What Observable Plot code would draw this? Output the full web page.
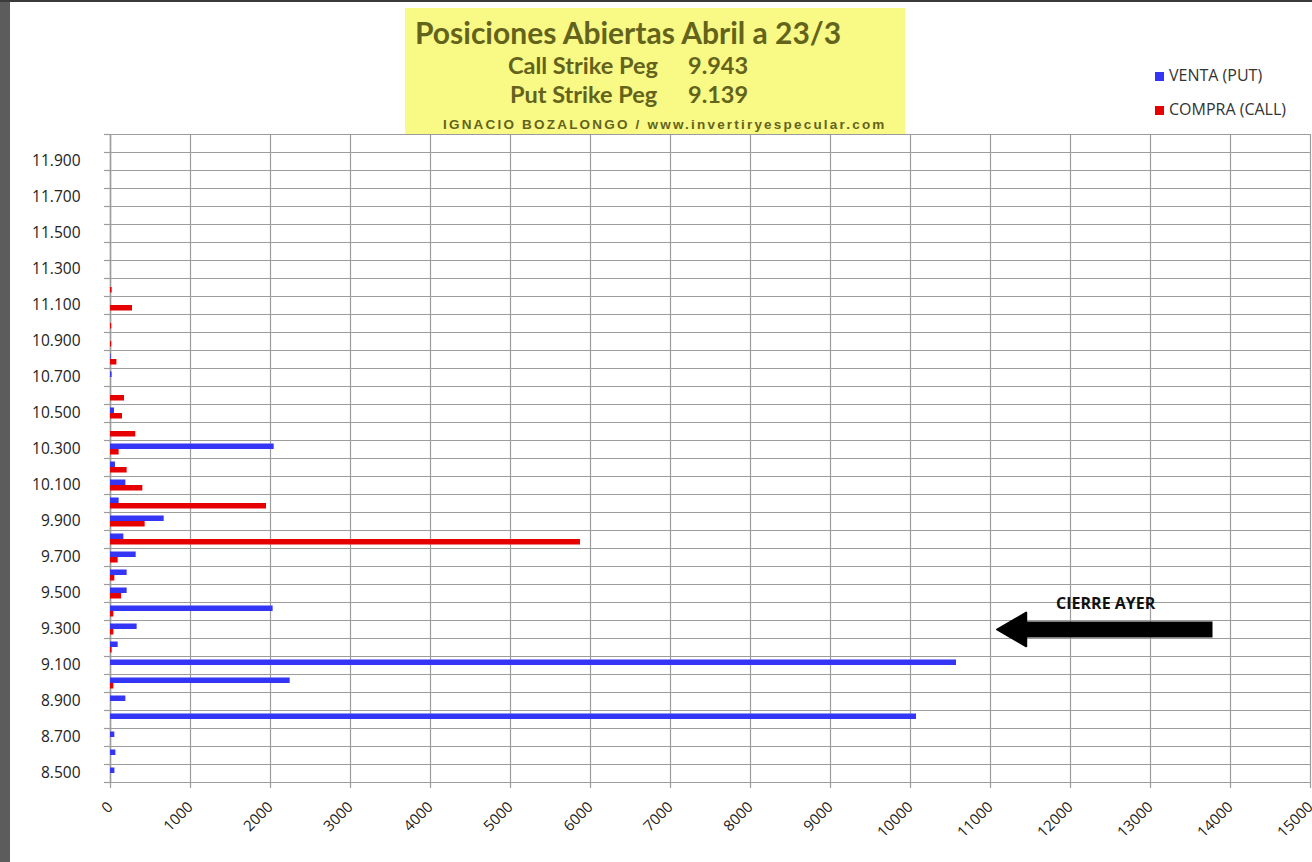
<!DOCTYPE html>
<html><head><meta charset="utf-8">
<script src="https://cdn.jsdelivr.net/npm/d3@7"></script>
<script src="https://cdn.jsdelivr.net/npm/@observablehq/plot@0.6"></script>
<style>
body{margin:0;background:#fff;}
#wrap{position:relative;width:1312px;height:862px;overflow:hidden;background:#fff;}
#chart{position:absolute;left:0;top:0;}
#leftbar{position:absolute;left:0;top:0;width:10px;height:862px;background:#5c5c5c;}
#topbar{position:absolute;left:0;top:0;width:1312px;height:2px;background:#3a3a3a;}
#titlebox{position:absolute;left:405px;top:8px;width:500px;height:126px;background:#f9f986;color:#63631c;font-family:Lato, "Open Sans", sans-serif;font-weight:bold;}
#titlebox div{position:absolute;white-space:nowrap;}
.t1{left:10px;top:6px;font-size:30px;}
.t2{font-size:23.5px;}
.t3{left:38px;top:109px;font-size:13.5px;font-family:"Liberation Sans", Arial, sans-serif;letter-spacing:2.2px;}
.leg{position:absolute;left:1155px;font-family:"Open Sans", sans-serif;font-size:16px;color:#333;white-space:nowrap;}
.leg span{display:inline-block;width:9px;height:9px;margin-right:5px;}
</style>
</head><body>
<div id="wrap">
<div id="chart"></div>
<div id="leftbar"></div>
<div id="topbar"></div>
<div id="titlebox">
  <div class="t1">Posiciones Abiertas Abril a 23/3</div>
  <div class="t2" style="left:103px;top:43px;">Call Strike Peg</div>
  <div class="t2" style="left:283px;top:43px;">9.943</div>
  <div class="t2" style="left:105px;top:72px;">Put Strike Peg</div>
  <div class="t2" style="left:283px;top:72px;">9.139</div>
  <div class="t3">IGNACIO BOZALONGO / www.invertiryespecular.com</div>
</div>
<div class="leg" style="top:64px;"><span style="background:#3535f5"></span>VENTA (PUT)</div>
<div class="leg" style="top:98px;"><span style="background:#e60000"></span>COMPRA (CALL)</div>
</div>
<script>
// Strike categories (bottom to top)
const strikes = [8500, 8600, 8700, 8800, 8900, 9000, 9100, 9200, 9300, 9400, 9500, 9600,
  9700, 9800, 9900, 10000, 10100, 10200, 10300, 10400, 10500, 10600, 10700, 10800,
  10900, 11000, 11100, 11200, 11300, 11400, 11500, 11600, 11700, 11800, 11900, 12000];
// VENTA (PUT) open interest
const puts = [55, 67, 54, 10075, 192, 2246, 10575, 96, 333, 2033, 208, 208,
  321, 167, 671, 108, 192, 62, 2046, 0, 50, 0, 20, 8,
  0, 0, 0, 0, 0, 0, 0, 0, 0, 0, 0, 0];
// COMPRA (CALL) open interest
const calls = [0, 0, 0, 0, 0, 42, 0, 20, 42, 42, 138, 54,
  96, 5875, 433, 1950, 404, 208, 108, 316, 150, 175, 0, 80,
  15, 15, 275, 20, 0, 0, 0, 0, 0, 0, 0, 0];
const seriesNames = ["VENTA (PUT)", "COMPRA (CALL)"];
const seriesColors = ["#3535f5", "#e60000"];
const xTicks = [0, 1000, 2000, 3000, 4000, 5000, 6000, 7000, 8000, 9000, 10000, 11000, 12000, 13000, 14000, 15000];
const yLabelTicks = [8500, 8700, 8900, 9100, 9300, 9500, 9700, 9900, 10100, 10300, 10500, 10700, 10900, 11100, 11300, 11500, 11700, 11900];
// annotation "CIERRE AYER" (data units)
const noteText = ["CIERRE AYER"];
const noteX = [12440];
const noteStrike = [9400];
const arrowStrike = [9300];
const arrowFrom = [13775];
const arrowTo = [11100];
const arrowShaftEnd = [11300];

const half = 50;
const boundaries = strikes.map(s => s - half).concat([strikes[strikes.length - 1] + half]);
const putRows = strikes.map((s, i) => ({strike: s, value: puts[i]})).filter(d => d.value > 0);
const callRows = strikes.map((s, i) => ({strike: s, value: calls[i]})).filter(d => d.value > 0);
const fmt = d3.format(",");
const esFmt = d => fmt(d).replace(/,/g, ".");

const gridColor = "#9c9c9c";
const chart = Plot.plot({
  width: 1312,
  height: 862,
  marginLeft: 110,
  marginRight: 2,
  marginTop: 134,
  marginBottom: 80,
  style: {fontFamily: "'Open Sans', sans-serif", background: "transparent", color: "#333"},
  x: {domain: [0, 15000]},
  y: {domain: [boundaries[0], boundaries[boundaries.length - 1]]},
  marks: [
    Plot.gridX(xTicks, {stroke: gridColor, strokeOpacity: 1, strokeWidth: 1.2}),
    Plot.gridY(boundaries, {stroke: gridColor, strokeOpacity: 1, strokeWidth: 1.2}),
    Plot.axisY(boundaries, {tickSize: 6, stroke: gridColor, strokeWidth: 1.2, tickFormat: () => "", label: null}),
    Plot.axisY(yLabelTicks, {tickSize: 0, tickPadding: 30, tickFormat: esFmt, fontSize: 15.5, fill: "#222", label: null}),
    Plot.axisX(xTicks, {tickSize: 6, stroke: gridColor, strokeWidth: 1.2, tickRotate: -45, tickPadding: 16, fontSize: 15, fill: "#222", tickFormat: d => String(d), label: null}),
    Plot.ruleX([0], {stroke: gridColor, strokeWidth: 1.5}),
    Plot.rectX(putRows, {x1: 0, x2: "value", y1: d => d.strike + half, y2: d => d.strike - half, insetTop: 3.5, insetBottom: 9, fill: seriesColors[0]}),
    Plot.rectX(callRows, {x1: 0, x2: "value", y1: d => d.strike + half, y2: d => d.strike - half, insetTop: 9, insetBottom: 3.5, fill: seriesColors[1]}),
    Plot.link(arrowStrike, {x1: arrowFrom[0], x2: arrowShaftEnd[0], y1: d => d, y2: d => d, stroke: "#000", strokeWidth: 16, strokeLinecap: "butt"}),
    Plot.dot(arrowStrike, {x: arrowTo[0], y: d => d, dx: 18, symbol: "triangle", rotate: -90, r: 12.5, fill: "#000", stroke: "#000", strokeWidth: 2, strokeLinejoin: "round"}),
    Plot.text(noteText, {x: noteX[0], y: noteStrike[0], text: d => d, dy: -8, fontWeight: "bold", fontSize: 16, fill: "#111"})
  ]
});
document.getElementById("chart").appendChild(chart);
</script>
</body></html>
